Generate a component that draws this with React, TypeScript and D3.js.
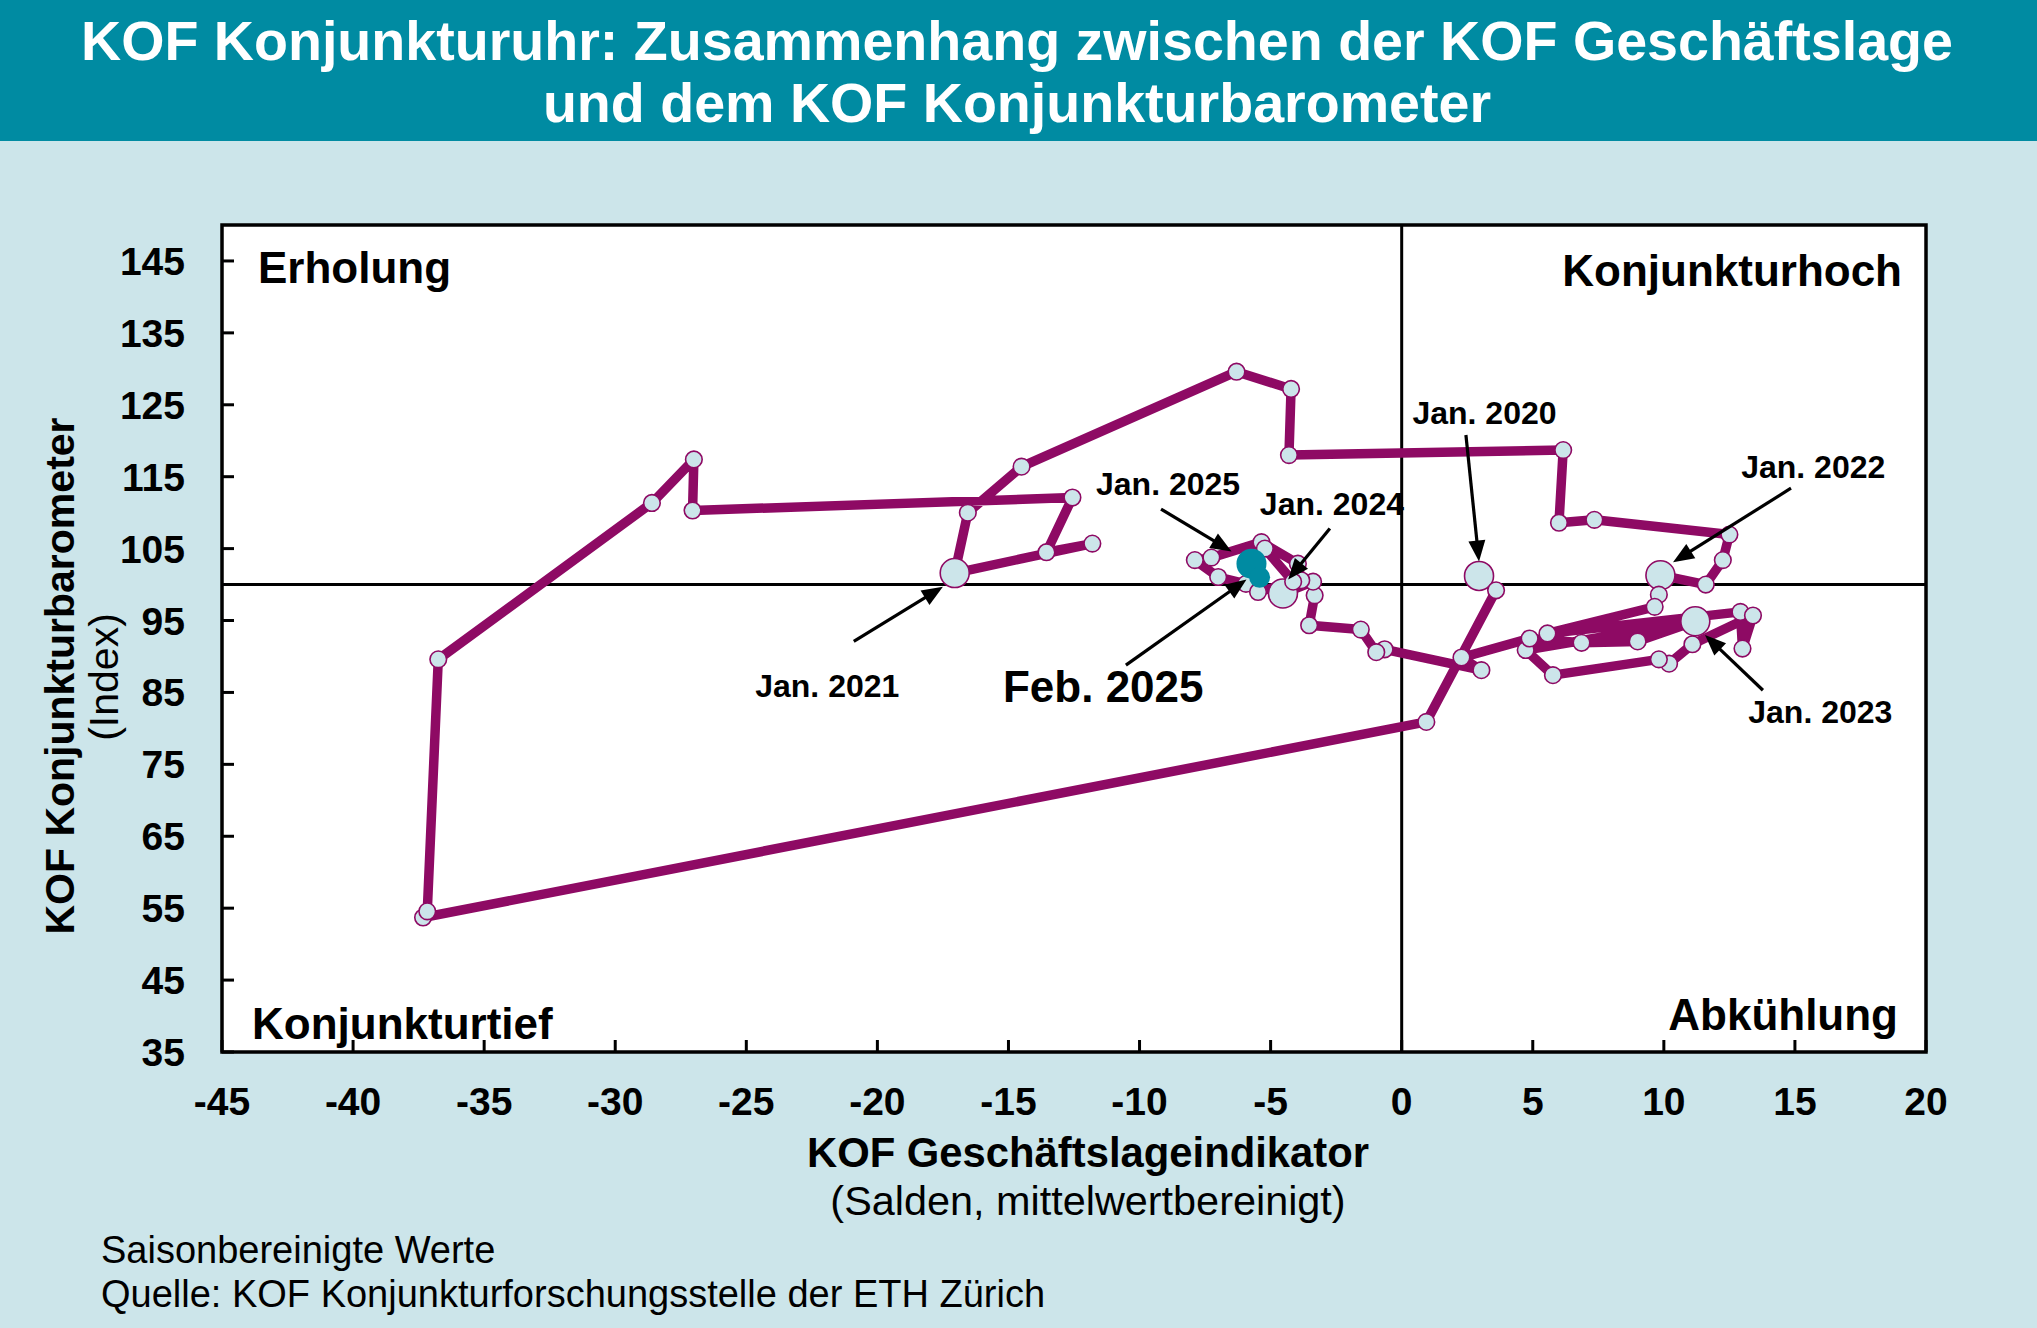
import React from 'react';
import * as d3 from 'd3';

// ---- data ----
const months = [
  'Jan. 2020','Feb. 2020','Mär. 2020','Apr. 2020','Mai 2020','Jun. 2020','Jul. 2020','Aug. 2020','Sep. 2020','Okt. 2020','Nov. 2020','Dez. 2020',
  'Jan. 2021','Feb. 2021','Mär. 2021','Apr. 2021','Mai 2021','Jun. 2021','Jul. 2021','Aug. 2021','Sep. 2021','Okt. 2021','Nov. 2021','Dez. 2021',
  'Jan. 2022','Feb. 2022','Mär. 2022','Apr. 2022','Mai 2022','Jun. 2022','Jul. 2022','Aug. 2022','Sep. 2022','Okt. 2022','Nov. 2022','Dez. 2022',
  'Jan. 2023','Feb. 2023','Mär. 2023','Apr. 2023','Mai 2023','Jun. 2023','Jul. 2023','Aug. 2023','Sep. 2023','Okt. 2023','Nov. 2023','Dez. 2023',
  'Jan. 2024','Feb. 2024','Mär. 2024','Apr. 2024','Mai 2024','Jun. 2024','Jul. 2024','Aug. 2024','Sep. 2024','Okt. 2024','Nov. 2024','Dez. 2024',
  'Jan. 2025','Feb. 2025',
];

const geschaeftslage = [
  2.95, 3.6, 0.94, -37.33, -37.17, -36.75, -28.6, -27.0, -27.05, -12.56, -13.55, -11.8,
  -17.05, -16.55, -14.5, -6.3, -4.22, -4.3, 6.16, 6.0, 7.35, 12.5, 12.25, 11.6,
  9.87, 9.81, 9.65, 5.56, 12.92, 13.0, 13.4, 11.09, 10.2, 9.81, 5.77, 4.73,
  11.2, 9.0, 6.86, 4.88, 2.28, 3.04, -0.65, -0.97, -1.56, -3.53, -3.32, -3.38,
  -4.53, -3.83, -3.96, -5.35, -7.26, -7.89, -7.0, -5.94, -5.48, -4.14, -5.22, -5.9,
  -5.73, -5.42,
];

const barometer = [
  101.2, 99.2, 80.9, 53.7, 54.56, 89.6, 111.35, 117.4, 110.3, 112.1, 104.5, 105.7,
  101.6, 110.0, 116.4, 129.6, 127.2, 118.0, 118.7, 108.6, 109.0, 106.95, 103.4, 100.0,
  101.3, 98.6, 96.9, 93.2, 96.2, 91.1, 95.7, 91.7, 89.0, 89.6, 87.4, 90.9,
  94.9, 92.1, 91.9, 92.5, 89.85, 88.1, 91.0, 90.6, 93.74, 94.34, 98.5, 100.4,
  98.75, 100.6, 102.9, 105.9, 103.75, 103.4, 101.05, 100.1, 98.97, 100.4, 105.0, 103.3,
  102.9, 101.0,
];

const xTicks = [-45, -40, -35, -30, -25, -20, -15, -10, -5, 0, 5, 10, 15, 20];
const yTicks = [35, 45, 55, 65, 75, 85, 95, 105, 115, 125, 135, 145];

// annotation labels with arrows (data units): label anchor, arrow start, arrow tip
const annLabels = ['Jan. 2020', 'Jan. 2021', 'Jan. 2022', 'Jan. 2023', 'Jan. 2024', 'Jan. 2025', 'Feb. 2025'];
const annLabelX = [0.41, -24.66, 12.95, 13.22, -5.41, -11.66, -15.21];
const annLabelY = [122.3, 84.4, 114.8, 80.8, 109.7, 112.4, 83.7];
const annFrom = [[2.45, 120.8], [-20.9, 92.1], [14.85, 113.4], [13.78, 85.3], [-2.74, 107.8], [-9.18, 110.5], [-10.52, 88.8]];
const annTo = [[2.95, 103.2], [-17.5, 99.7], [10.35, 103.1], [11.57, 93.0], [-4.33, 100.7], [-6.49, 104.6], [-5.92, 100.7]];
const annBig = [false, false, false, false, false, false, true];

const titleLines = [
  'KOF Konjunkturuhr: Zusammenhang zwischen der KOF Geschäftslage',
  'und dem KOF Konjunkturbarometer',
];

const W = 2037;
const H = 1328;
const FONT = "'Liberation Sans', Arial, Helvetica, sans-serif";
const BG = '#cce5ea';
const TEAL = '#008ba2';
const MAGENTA = '#8e0a64';

export default function App() {
  const left = 222, right = 1926, top = 225, bottom = 1052;
  const x = d3.scaleLinear().domain([-45, 20]).range([left, right]);
  const y = d3.scaleLinear().domain([35, 150]).range([bottom, top]);

  const pts = months.map((m, i) => ({ m, gx: geschaeftslage[i], kb: barometer[i], i }));
  const line = d3.line<any>().x((d) => x(d.gx)).y((d) => y(d.kb));
  const n = pts.length;

  const arrows = annLabels.map((lab, k) => {
    const sx = x(annFrom[k][0]), sy = y(annFrom[k][1]);
    const tx = x(annTo[k][0]), ty = y(annTo[k][1]);
    const dx = tx - sx, dy = ty - sy;
    const len = Math.sqrt(dx * dx + dy * dy);
    const ux = dx / len, uy = dy / len;
    const hl = 21, hw = 8.5;
    const bx = tx - ux * hl, by = ty - uy * hl;
    const head = `${tx},${ty} ${bx - uy * hw},${by + ux * hw} ${bx + uy * hw},${by - ux * hw}`;
    return { lab, k, sx, sy, bx: tx - ux * (hl - 3), by: ty - uy * (hl - 3), head };
  });

  return (
    <div style={{ position: 'absolute', left: 0, top: 0 }}>
      <svg width={W} height={H} style={{ display: 'block' }} fontFamily={FONT}>
        <rect x={0} y={0} width={W} height={H} fill={BG} />
        <rect x={0} y={0} width={W} height={141} fill={TEAL} />
        {titleLines.map((t, i) => (
          <text key={i} x={1017} y={60 + i * 62} textAnchor="middle" fill="#fff" fontWeight="bold" fontSize={55.6}>
            {t}
          </text>
        ))}

        {/* plot area */}
        <rect x={left} y={top} width={right - left} height={bottom - top} fill="#fff" />

        {/* ticks */}
        {yTicks.map((t) => (
          <line key={'yt' + t} x1={left} x2={left + 12} y1={y(t)} y2={y(t)} stroke="#000" strokeWidth={3} />
        ))}
        {xTicks.map((t) => (
          <line key={'xt' + t} x1={x(t)} x2={x(t)} y1={bottom} y2={bottom - 12} stroke="#000" strokeWidth={3} />
        ))}

        {/* zero lines */}
        <line x1={x(0)} x2={x(0)} y1={top} y2={bottom} stroke="#000" strokeWidth={3} />
        <line x1={left} x2={right} y1={y(100)} y2={y(100)} stroke="#000" strokeWidth={3} />

        {/* frame */}
        <rect x={left} y={top} width={right - left} height={bottom - top} fill="none" stroke="#000" strokeWidth={3.5} />

        {/* tick labels */}
        {yTicks.map((t) => (
          <text key={'yl' + t} x={185} y={y(t) + 14} textAnchor="end" fontWeight="bold" fontSize={39}>
            {t}
          </text>
        ))}
        {xTicks.map((t) => (
          <text key={'xl' + t} x={x(t)} y={1115} textAnchor="middle" fontWeight="bold" fontSize={39}>
            {t}
          </text>
        ))}

        {/* quadrant labels */}
        <text x={left + 36} y={283} fontWeight="bold" fontSize={44}>Erholung</text>
        <text x={right - 24} y={286} textAnchor="end" fontWeight="bold" fontSize={44}>Konjunkturhoch</text>
        <text x={left + 30} y={1039} fontWeight="bold" fontSize={44}>Konjunkturtief</text>
        <text x={right - 28} y={1030} textAnchor="end" fontWeight="bold" fontSize={44}>Abkühlung</text>

        {/* path */}
        <path d={line(pts) || ''} fill="none" stroke={MAGENTA} strokeWidth={9.5} strokeLinejoin="round" strokeLinecap="round" />

        {/* points */}
        {pts.map((p) => {
          const big = p.m.startsWith('Jan.');
          const teal = p.i >= n - 2;
          const r = teal ? (big ? 15 : 10.5) : big ? 14.5 : 8.3;
          return (
            <circle
              key={'c' + p.i}
              cx={x(p.gx)}
              cy={y(p.kb)}
              r={r}
              fill={teal ? TEAL : BG}
              stroke={teal ? TEAL : MAGENTA}
              strokeWidth={teal ? 0 : 1.6}
            />
          );
        })}

        {/* annotations */}
        {arrows.map((a) => (
          <g key={'a' + a.k}>
            <line x1={a.sx} y1={a.sy} x2={a.bx} y2={a.by} stroke="#000" strokeWidth={3.2} />
            <polygon points={a.head} fill="#000" />
            <text
              x={x(annLabelX[a.k])}
              y={y(annLabelY[a.k])}
              fontWeight="bold"
              fontSize={annBig[a.k] ? 44 : 32}
            >
              {a.lab}
            </text>
          </g>
        ))}

        {/* axis titles */}
        <text x={1088} y={1167} textAnchor="middle" fontWeight="bold" fontSize={41.8}>KOF Geschäftslageindikator</text>
        <text x={1088} y={1215} textAnchor="middle" fontSize={41.4}>(Salden, mittelwertbereinigt)</text>
        <text transform="translate(74,676) rotate(-90)" textAnchor="middle" fontWeight="bold" fontSize={41}>
          KOF Konjunkturbarometer
        </text>
        <text transform="translate(118,677) rotate(-90)" textAnchor="middle" fontSize={41}>
          (Index)
        </text>

        {/* footer */}
        <text x={101} y={1263} fontSize={38}>Saisonbereinigte Werte</text>
        <text x={101} y={1307} fontSize={38}>Quelle: KOF Konjunkturforschungsstelle der ETH Zürich</text>
      </svg>
    </div>
  );
}
